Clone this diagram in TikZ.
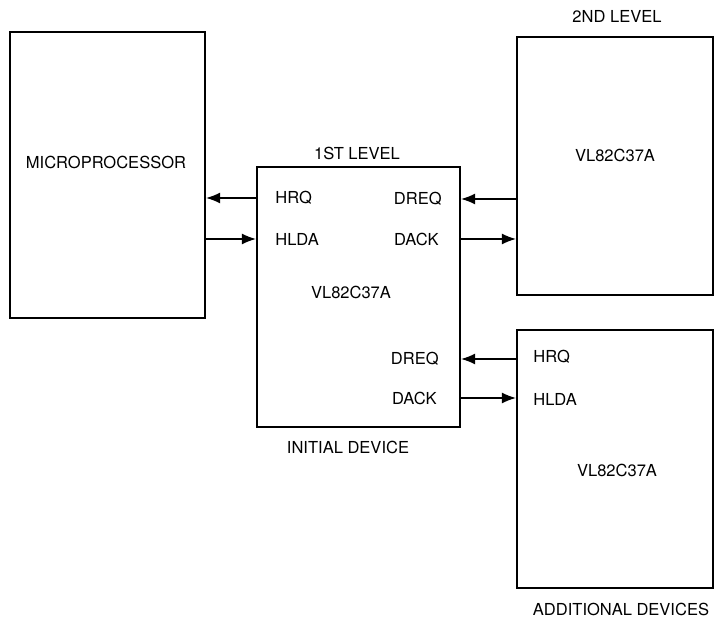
\documentclass[tikz,border=0pt]{standalone}
\usepackage{fontspec}
\setmainfont{TeX Gyre Heros}
\usetikzlibrary{arrows.meta,positioning}

\begin{document}
\begin{tikzpicture}[font=\fontsize{9.4}{11}\selectfont,
      chip/.style={rectangle, draw, line width=1.3pt, inner sep=0pt},
      pin/.style={inner sep=0pt},
      sig/.style={-{Latex[length=2.8mm, width=2.2mm]}, line width=0.7pt}]
    \useasboundingbox (0, 0) rectangle (14.3, 12.36);
    % boxes
    \node[chip, minimum width=3.9cm, minimum height=5.72cm] (mp) at (2.15, 8.86) {};
    \node[chip, minimum width=4.06cm, minimum height=5.2cm] (init) at (7.17, 6.42) {};
    \node[chip, minimum width=3.92cm, minimum height=5.16cm] (lvl2) at (12.3, 9.04) {};
    \node[chip, minimum width=3.92cm, minimum height=5.16cm] (add) at (12.3, 3.18) {};
    % titles
    \node (mptxt) at (2.12, 9.12) {MICROPROCESSOR};
    \node (lvl1txt) at (7.14, 9.30) {1ST LEVEL};
    \node (inittxt) at (7.02, 6.52) {VL82C37A};
    \node (initcap) at (6.96, 3.42) {INITIAL DEVICE};
    \node (lvl2cap) at (12.34, 12.04) {2ND LEVEL};
    \node (lvl2txt) at (12.3, 9.26) {VL82C37A};
    \node (addtxt) at (12.34, 2.96) {VL82C37A};
    \node (addcap) at (12.42, 0.18) {ADDITIONAL DEVICES};
    % pins
    \node[pin, anchor=west] (hrqa) at (5.5, 8.4) {HRQ};
    \node[pin, anchor=west] (hldaa) at (5.5, 7.58) {HLDA};
    \node[pin, anchor=east] (dreqa) at (8.84, 8.38) {DREQ};
    \node[pin, anchor=east] (dacka) at (8.78, 7.58) {DACK};
    \node[pin, anchor=east] (dreqb) at (8.78, 5.18) {DREQ};
    \node[pin, anchor=east] (dackb) at (8.74, 4.4) {DACK};
    \node[pin, anchor=west] (hrqb) at (10.66, 5.22) {HRQ};
    \node[pin, anchor=west] (hldab) at (10.66, 4.38) {HLDA};
    % signals
    \draw[sig] (init.west |- hrqa) -- (mp.east |- hrqa);
    \draw[sig] (mp.east |- hldaa) -- (init.west |- hldaa);
    \draw[sig] (lvl2.west |- dreqa) -- (init.east |- dreqa);
    \draw[sig] (init.east |- dacka) -- (lvl2.west |- dacka);
    \draw[sig] (add.west |- dreqb) -- (init.east |- dreqb);
    \draw[sig] (init.east |- dackb) -- (add.west |- dackb);
  \end{tikzpicture}
\end{document}
